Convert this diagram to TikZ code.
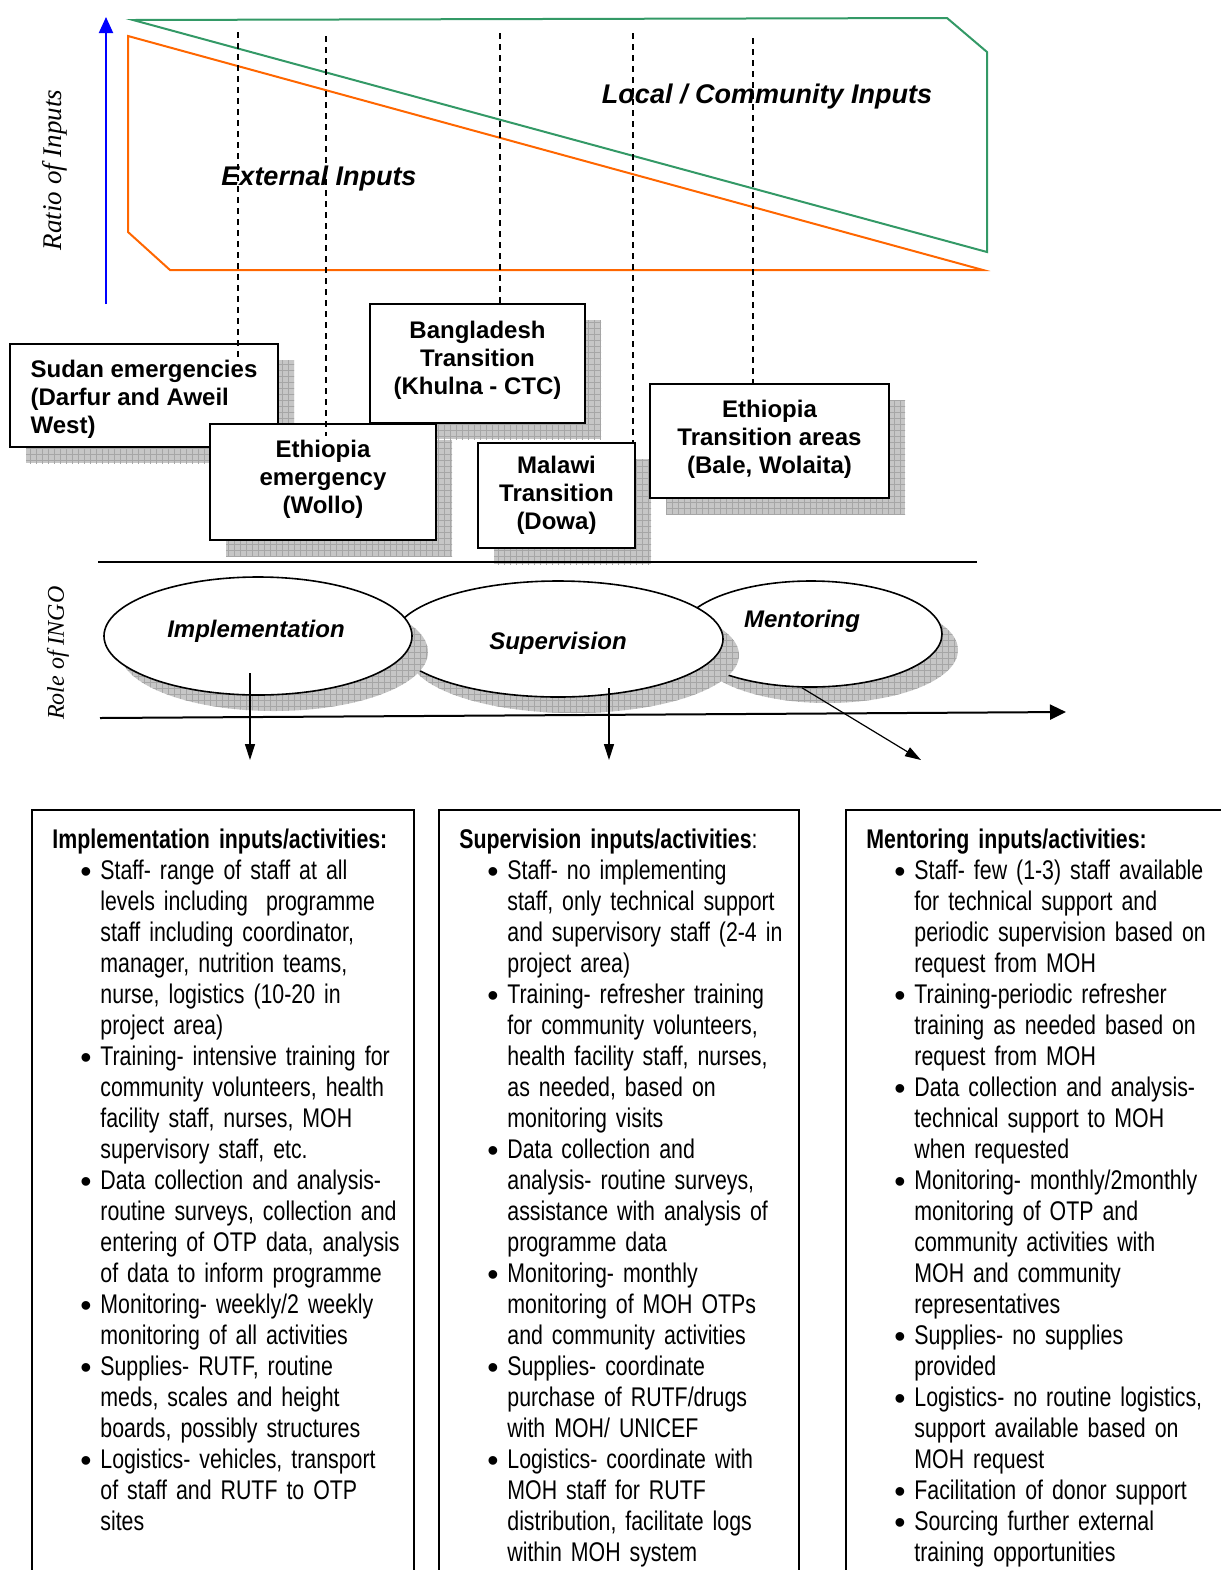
\documentclass[tikz,border=0pt]{standalone}
\usepackage{fontspec}
\setmainfont{Liberation Sans}
\newfontfamily\narrowfont[FakeStretch=0.79]{Liberation Sans}
\newfontfamily\romanfont{Liberation Serif}
\usetikzlibrary{shapes.geometric, arrows.meta, positioning, calc, shadows, patterns}
\definecolor{seagreen}{RGB}{51,153,102}
\definecolor{inputorange}{RGB}{255,102,0}
\newcommand{\actitem}{\par\hangindent=24pt\hangafter=1\noindent\hspace*{14pt}%
  \makebox[10pt][l]{\raisebox{-1.5pt}{\normalfont\fontsize{16}{15.5}\selectfont\textbullet}}}

\begin{document}
\begin{tikzpicture}[x=0.5pt, y=-0.5pt,
    boxshadow/.style={drop shadow={shadow xshift=8pt, shadow yshift=-8pt, opacity=1, fill=gray!45, draw=none,
                      postaction={pattern=grid, pattern color=gray!70}}},
    site/.style={draw, line width=1pt, fill=white, align=center, inner sep=2pt,
                 font=\bfseries\fontsize{12}{14}\selectfont, boxshadow},
    role/.style={ellipse, draw, line width=0.8pt, fill=white, inner sep=0pt, boxshadow},
    rolelbl/.style={font=\bfseries\itshape\fontsize{12}{14}\selectfont},
    arealbl/.style={font=\bfseries\itshape\fontsize{13.5}{16}\selectfont},
    sidelbl/.style={rotate=90, font=\romanfont\itshape\fontsize{13.5}{16}\selectfont},
    guide/.style={dash pattern=on 3pt off 2.5pt, line width=0.6pt},
    outarrow/.style={-{Triangle[length=8pt,width=5pt]}, line width=0.6pt},
    panel/.style={line width=1pt},
    panel text/.style={anchor=north west, text width=190pt, align=left, inner xsep=10pt, inner ysep=9.5pt,
                       font=\narrowfont\fontsize{13.5}{15.5}\selectfont}
  ]
  \useasboundingbox (0,0) rectangle (1221,1570);

  % ratio of inputs
  \coordinate (ratioBot) at (106,304);
  \coordinate (ratioTop) at (106,17);
  \draw[-{Triangle[length=8pt,width=7pt]}, blue, line width=1pt] (ratioBot) -- (ratioTop);
  \node[sidelbl] (ratioLbl) at (55,170) {Ratio of Inputs};

  \draw[seagreen, line width=1pt] (133,20) -- (947,18) -- (987,52) -- (987,252) -- cycle;
  \draw[inputorange, line width=1pt] (128,36) -- (128,232) -- (170,270) -- (983,270) -- cycle;
  \node[arealbl] (extLbl) at (319,179) {External Inputs};
  \node[arealbl] (localLbl) at (767,97) {Local / Community Inputs};

  % programme sites
  \node[site, align=left, minimum width=134pt, minimum height=51.5pt] (sudan) at (144,395.5) {\rule{0pt}{12pt}Sudan emergencies\\(Darfur and Aweil\\West)};
  \node[site, minimum width=107.5pt, minimum height=59.5pt] (bangla) at (477.5,363.5) {Bangladesh\\Transition\\(Khulna - CTC)\rule[-6pt]{0pt}{0pt}};
  \node[site, minimum width=113pt, minimum height=58pt] (ethEmerg) at (323,482) {Ethiopia\\emergency\\(Wollo)\rule[-5pt]{0pt}{0pt}};
  \node[site, minimum width=78.5pt, minimum height=52.5pt] (malawi) at (556.5,495.5) {Malawi\\Transition\\(Dowa)};
  \node[site, minimum width=119.5pt, minimum height=57pt] (ethTrans) at (769.5,441) {Ethiopia\\Transition areas\\(Bale, Wolaita)\rule[-4pt]{0pt}{0pt}};

  \foreach \site/\gx/\gy/\dip in {sudan/238/32/18, ethEmerg/326/36/13, bangla/500/33/0, malawi/633/33/0, ethTrans/753/38/0}{
    \coordinate (top-\site) at (\gx,\gy);
    \draw[guide] (top-\site) -- ($(top-\site |- \site.north)+(0,\dip)$);
  }

  \coordinate (divL) at (98,562);
  \coordinate (divR) at (977,562);
  \draw[line width=1pt] (divL) -- (divR);

  % role of INGO
  \node[sidelbl, font=\romanfont\itshape\fontsize{12}{14}\selectfont] (roleLbl) at (58,653) {Role of INGO};
  \node[role, minimum width=131pt, minimum height=53pt, label={[rolelbl, xshift=-4.5pt, yshift=6.5pt]center:Mentoring}] (ment) at (811,634) {};
  \node[role, minimum width=165pt, minimum height=58pt, label={[rolelbl, yshift=-2pt]center:Supervision}] (superv) at (558,639) {};
  \node[role, minimum width=154pt, minimum height=59pt, label={[rolelbl, xshift=-1pt, yshift=2.5pt]center:Implementation}] (impl) at (258,636) {};

  \coordinate (axisL) at (100,718);
  \coordinate (axisR) at (1066,712);
  \draw[-{Triangle[length=8pt,width=7.5pt]}, line width=1pt] (axisL) -- (axisR);

  \coordinate (implOut) at (250,760);
  \coordinate (supervOut) at (609,760);
  \coordinate (mentOut) at (921,760);
  \draw[outarrow] ($(impl.center)+(-8,37)$) -- (implOut);
  \draw[outarrow] ($(superv.center)+(51,49)$) -- (supervOut);
  \draw[outarrow] ($(ment.south)+(-9,0)$) -- (mentOut);

  % inputs / activities
  \node[panel text] (implTxt) at (32,810) {\textbf{Implementation inputs/activities:}
    \actitem Staff- range of staff at all\newline levels including\ \ programme\newline staff including coordinator,\newline manager, nutrition teams,\newline nurse, logistics (10-20 in\newline project area)
    \actitem Training- intensive training for\newline community volunteers, health\newline facility staff, nurses, MOH\newline supervisory staff, etc.
    \actitem Data collection and analysis-\newline routine surveys, collection and\newline entering of OTP data, analysis\newline of data to inform programme
    \actitem Monitoring- weekly/2 weekly\newline monitoring of all activities
    \actitem Supplies- RUTF, routine\newline meds, scales and height\newline boards, possibly structures
    \actitem Logistics- vehicles, transport\newline of staff and RUTF to OTP\newline sites\par};
  \draw[panel] (implTxt.north west) rectangle ++(382,790);

  \node[panel text] (supervTxt) at (439,810) {\textbf{Supervision inputs/activities}:
    \actitem Staff- no implementing\newline staff, only technical support\newline and supervisory staff (2-4 in\newline project area)
    \actitem Training- refresher training\newline for community volunteers,\newline health facility staff, nurses,\newline as needed, based on\newline monitoring visits
    \actitem Data collection and\newline analysis- routine surveys,\newline assistance with analysis of\newline programme data
    \actitem Monitoring- monthly\newline monitoring of MOH OTPs\newline and community activities
    \actitem Supplies- coordinate\newline purchase of RUTF/drugs\newline with MOH/ UNICEF
    \actitem Logistics- coordinate with\newline MOH staff for RUTF\newline distribution, facilitate logs\newline within MOH system\par};
  \draw[panel] (supervTxt.north west) rectangle ++(360,790);

  \node[panel text] (mentTxt) at (846,810) {\textbf{Mentoring inputs/activities:}
    \actitem Staff- few (1-3) staff available\newline for technical support and\newline periodic supervision based on\newline request from MOH
    \actitem Training-periodic refresher\newline training as needed based on\newline request from MOH
    \actitem Data collection and analysis-\newline technical support to MOH\newline when requested
    \actitem Monitoring- monthly/2monthly\newline monitoring of OTP and\newline community activities with\newline MOH and community\newline representatives
    \actitem Supplies- no supplies\newline provided
    \actitem Logistics- no routine logistics,\newline support available based on\newline MOH request
    \actitem Facilitation of donor support
    \actitem Sourcing further external\newline training opportunities\par};
  \draw[panel] (mentTxt.north west) rectangle ++(400,790);
\end{tikzpicture}
\end{document}
